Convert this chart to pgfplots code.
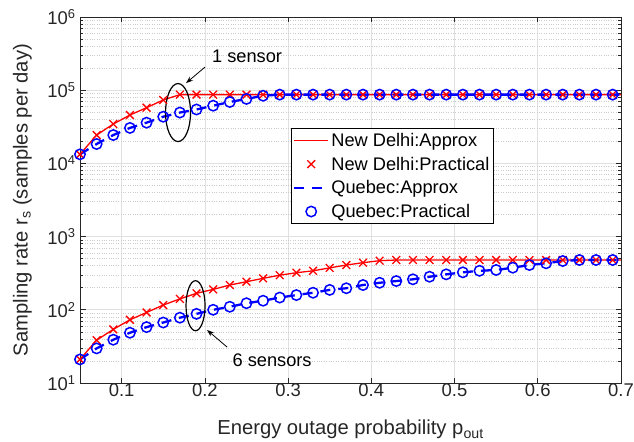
\documentclass[border=0pt]{standalone}
\usepackage{fontspec}
\setmainfont{Liberation Sans}
\usepackage{pgfplots}
\pgfplotsset{compat=1.18}
\usepackage{pgfplotstable}
\usetikzlibrary{arrows.meta}
\definecolor{axgray}{HTML}{262626}
\definecolor{mred}{HTML}{FF0000}
\definecolor{mblue}{HTML}{0000FF}

% approximation curves (to 0.7)
\pgfplotstableread{
x     nd1    qc1    nd6   qc6
0.05  13300  13300  21    21
0.07  24400  18400  38.5  29.7
0.09  34500  24400  54    39
0.11  45800  30500  73    48.6
0.13  57700  36000  92    58
0.15  73500  43400  116   67
0.17  87000  49500  141   78
0.19  87000  54500  168   88
0.21  87000  61400  190   100
0.23  87000  69000  218   110
0.25  87000  76000  242   123
0.27  87000  84000  269   133
0.29  87000  87000  297   147
0.31  87000  87000  321   159
0.33  87000  87000  341   171
0.35  87000  87000  374   187
0.37  87000  87000  409   197
0.39  87000  87000  440   218
0.41  87000  87000  469   234
0.43  87000  87000  479   247
0.45  87000  87000  479   261
0.47  87000  87000  479   283
0.49  87000  87000  479   305
0.51  87000  87000  479   325
0.53  87000  87000  479   341
0.55  87000  87000  479   350
0.57  87000  87000  479   376
0.59  87000  87000  479   409
0.61  87000  87000  479   432
0.63  87000  87000  479   464
0.65  87000  87000  479   479
0.67  87000  87000  479   479
0.69  87000  87000  479   479
0.70  87000  87000  479   479
}\approxtab

% practical (simulated) points
\pgfplotstableread{
x     nd1    qc1    nd6   qc6
0.05  13300  13300  21    21
0.07  24400  18400  38.5  29.7
0.09  34500  24400  54    39
0.11  45800  30500  73    48.6
0.13  57700  36000  92    58
0.15  73500  43400  116   67
0.17  87000  49500  141   78
0.19  87000  54500  168   88
0.21  87000  61400  190   100
0.23  87000  69000  218   110
0.25  87000  76000  242   123
0.27  87000  84000  269   133
0.29  87000  87000  297   147
0.31  87000  87000  321   159
0.33  87000  87000  341   171
0.35  87000  87000  374   187
0.37  87000  87000  409   197
0.39  87000  87000  440   218
0.41  87000  87000  469   234
0.43  87000  87000  479   247
0.45  87000  87000  479   261
0.47  87000  87000  479   283
0.49  87000  87000  479   305
0.51  87000  87000  479   325
0.53  87000  87000  479   341
0.55  87000  87000  479   350
0.57  87000  87000  479   376
0.59  87000  87000  479   409
0.61  87000  87000  479   432
0.63  87000  87000  479   464
0.65  87000  87000  479   479
0.67  87000  87000  479   479
0.69  87000  87000  479   479
}\practab

\begin{document}
\begin{tikzpicture}
\path[use as bounding box] (-80bp,-59bp) rectangle (554bp,383bp);
\begin{axis}[
  scale only axis, width=541bp, height=366bp,
  xmin=0.05, xmax=0.7, ymin=10, ymax=1e6, ymode=log,
  xtick={0.1,0.2,0.3,0.4,0.5,0.6,0.7},
  xticklabels={0.1,0.2,0.3,0.4,0.5,0.6,0.7},
  ytick={1e1,1e2,1e3,1e4,1e5,1e6},
  yticklabels={10\textsuperscript{1},10\textsuperscript{2},10\textsuperscript{3},10\textsuperscript{4},10\textsuperscript{5},10\textsuperscript{6}},
  minor ytick={20,30,40,50,60,70,80,90,200,300,400,500,600,700,800,900,2000,3000,4000,5000,6000,7000,8000,9000,20000,30000,40000,50000,60000,70000,80000,90000,200000,300000,400000,500000,600000,700000,800000,900000},
  grid=both,
  major grid style={color=black!12, line width=0.6bp},
  minor grid style={color=black!20, dotted, line width=0.6bp},
  tick align=inside, major tick length=5.5bp, minor tick length=3bp,
  axis line style={axgray, line width=0.7bp},
  tick style={axgray, line width=0.6bp},
  ticklabel style={font=\fontsize{18.5}{21}\selectfont, text=axgray},
  xticklabel style={yshift=3bp},
  yticklabel style={xshift=-1bp},
  xlabel={Energy outage probability p\textsubscript{out}},
  xlabel style={at={(axis description cs:0.5,-0.142)}, anchor=base, font=\fontsize{20.3}{24}\selectfont, text=axgray},
  ylabel={Sampling rate r\textsubscript{s} (samples per day)},
  ylabel style={at={(axis description cs:-0.097,0.5)}, anchor=base, font=\fontsize{20.3}{24}\selectfont, text=axgray},
  legend style={at={(0.3895,0.696)}, anchor=north west, draw=black, line width=0.7bp, fill=white,
    font=\fontsize{18.3}{21}\selectfont, inner xsep=2bp, inner ysep=2.5bp, row sep=5bp},
  legend cell align=left,
  legend image code/.code={\draw[mark repeat=2,mark phase=2,#1] plot coordinates {(0bp,0bp)(17bp,0bp)(34bp,0bp)};},
]
% upper group (1 sensor)
\addplot[mred, line width=1.3bp, no marks] table[x=x,y=nd1] {\approxtab};
\addlegendentry{New Delhi:Approx}
\addplot[mred, only marks, mark=x, mark size=5.5bp, line width=1.3bp] table[x=x,y=nd1] {\practab};
\addlegendentry{New Delhi:Practical}
\addplot[mblue, line width=2.3bp, no marks, dash pattern=on 10bp off 8bp] table[x=x,y=qc1] {\approxtab};
\addlegendentry{Quebec:Approx}
\addplot[mblue, only marks, mark=o, mark size=5.2bp, line width=1.5bp] table[x=x,y=qc1] {\practab};
\addlegendentry{Quebec:Practical}
% lower group (6 sensors)
\addplot[mred, line width=1.3bp, no marks, forget plot] table[x=x,y=nd6] {\approxtab};
\addplot[mred, only marks, mark=x, mark size=5.5bp, line width=1.3bp, forget plot] table[x=x,y=nd6] {\practab};
\addplot[mblue, line width=2.3bp, no marks, dash pattern=on 10bp off 8bp, forget plot] table[x=x,y=qc6] {\approxtab};
\addplot[mblue, only marks, mark=o, mark size=5.2bp, line width=1.5bp, forget plot] table[x=x,y=qc6] {\practab};
% annotations
\draw[line width=1.2bp] (axis cs:0.1678,4.95e4) ellipse [x radius=12.5bp, y radius=29bp];
\draw[line width=1.2bp] (axis cs:0.1888,113.7) ellipse [x radius=9.5bp, y radius=25bp];
\draw[-{Stealth[length=7bp,width=5bp]}, line width=0.8bp] (axis cs:0.2002,2.07e5) -- (axis cs:0.1774,1.25e5);
\draw[-{Stealth[length=7bp,width=5bp]}, line width=0.8bp] (axis cs:0.2267,31) -- (axis cs:0.2026,53);
\node[font=\fontsize{18.3}{21}\selectfont] at (axis cs:0.2507,2.87e5) {1 sensor};
\node[font=\fontsize{18.3}{21}\selectfont] at (axis cs:0.2808,20.6) {6 sensors};
\end{axis}
\end{tikzpicture}
\end{document}
